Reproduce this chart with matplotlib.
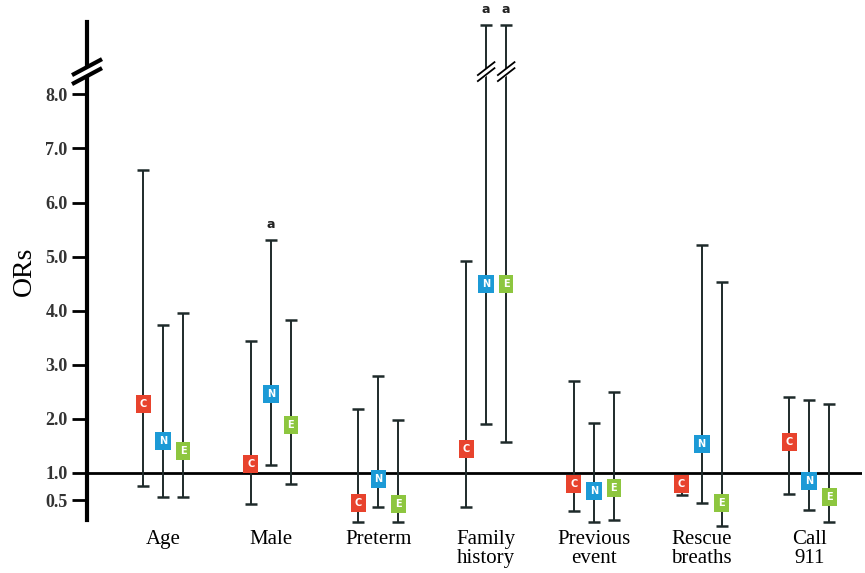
import numpy as np
import matplotlib
matplotlib.use('Agg')
import matplotlib.pyplot as plt

# dados
categorias = ['Age', 'Male', 'Preterm', 'Family\nhistory', 'Previous\nevent', 'Rescue\nbreaths', 'Call\n911']
series = ['C', 'N', 'E']
cores = ['#e8432d', '#1c9ad6', '#8dc63f']

# OR (ponto), limite inferior e superior por serie
or_c = [2.27, 1.17, 0.45, 1.44, 0.80, 0.80, 1.57]
lo_c = [0.76, 0.43, 0.09, 0.37, 0.30, 0.59, 0.61]
hi_c = [6.60, 3.44, 2.18, 4.92, 2.70, 0.93, 2.40]

or_n = [1.59, 2.46, 0.89, 4.49, 0.67, 1.54, 0.85]
lo_n = [0.56, 1.15, 0.37, 1.90, 0.09, 0.45, 0.32]
hi_n = [3.73, 5.31, 2.80, 9.28, 1.92, 5.21, 2.35]

or_e = [1.41, 1.89, 0.43, 4.49, 0.72, 0.45, 0.56]
lo_e = [0.56, 0.80, 0.09, 1.57, 0.13, 0.02, 0.09]
hi_e = [3.96, 3.83, 1.98, 9.28, 2.50, 4.53, 2.28]

# marca "a" (significativo) e corte de escala
sig_n = [False, True, False, True, False, False, False]
sig_e = [False, False, False, True, False, False, False]
corte = [False, False, False, True, False, False, False]

yticks = [0.5, 1.0, 2.0, 3.0, 4.0, 5.0, 6.0, 7.0, 8.0]

dados = [(or_c, lo_c, hi_c), (or_n, lo_n, hi_n), (or_e, lo_e, hi_e)]
sigs = [[False] * 7, sig_n, sig_e]

fig = plt.figure(figsize=(8.65, 5.73), dpi=100)
ax = fig.add_axes([0.1006, 0.0925, 0.896, 0.869])

x = np.arange(len(categorias))
dx = 0.186
px_x = 1 / 107.7   # unidades de dados por pixel
px_y = 1 / 54.1


def quebra(ax, xc, yc, w, h, gap, lw):
    # duas barras paralelas com branco no meio
    xs = np.array([xc - w / 2, xc + w / 2])
    ys = np.array([yc - h / 2, yc + h / 2])
    ax.fill_between(xs, ys - gap / 2, ys + gap / 2, color='white', zorder=5, clip_on=False)
    ax.plot(xs, ys - gap / 2, color='black', lw=lw, zorder=6, clip_on=False, solid_capstyle='butt')
    ax.plot(xs, ys + gap / 2, color='black', lw=lw, zorder=6, clip_on=False, solid_capstyle='butt')


for i, (s, cor) in enumerate(zip(series, cores)):
    vals, lo, hi = dados[i]
    vals = np.array(vals); lo = np.array(lo); hi = np.array(hi)
    xs = x + (i - 1) * dx
    ax.errorbar(xs, vals, yerr=[vals - lo, hi - vals], fmt='none', ecolor='#1e2a2a',
                elinewidth=1.4, capsize=4, capthick=1.8, zorder=3, clip_on=False)
    for j in range(len(xs)):
        ax.text(xs[j], vals[j], s, color='white', fontsize=7, fontweight='bold',
                ha='center', va='center', zorder=4, family='DejaVu Sans',
                bbox=dict(boxstyle='square,pad=0.4', fc=cor, ec='none'))
        if sigs[i][j]:
            ax.text(xs[j], hi[j] + 9 * px_y, 'a', fontsize=9, fontweight='bold',
                    ha='center', va='bottom', color='#222222', family='DejaVu Sans')
        if i > 0 and corte[j]:
            quebra(ax, xs[j], 8.42, 18 * px_x, 14 * px_y, 6 * px_y, 1.3)

ax.set_xlim(-0.706, 6.49)
ax.set_ylim(0.131, 9.336)
ax.axhline(1.0, color='black', lw=2, zorder=2)

for sp_ in ['top', 'right', 'bottom']:
    ax.spines[sp_].set_visible(False)
ax.spines['left'].set_linewidth(3)
ax.spines['left'].set_zorder(2)

ax.set_yticks(yticks)
ax.set_yticklabels([f'{t:.1f}' for t in yticks], family='Liberation Serif',
                   fontsize=13, fontweight='bold', color='#333333')
ax.tick_params(axis='y', direction='out', length=11, width=2, pad=3)
ax.set_xticks(x)
ax.set_xticklabels(categorias, family='Liberation Serif', fontsize=15, linespacing=1.05)
ax.tick_params(axis='x', length=0, pad=7)
ax.set_ylabel('ORs', family='Liberation Serif', fontsize=20, labelpad=6)

# quebra do eixo y
quebra(ax, -0.706, 8.42, 30 * px_x, 16 * px_y, 9 * px_y, 3)

fig.savefig('out.png', dpi=100)
